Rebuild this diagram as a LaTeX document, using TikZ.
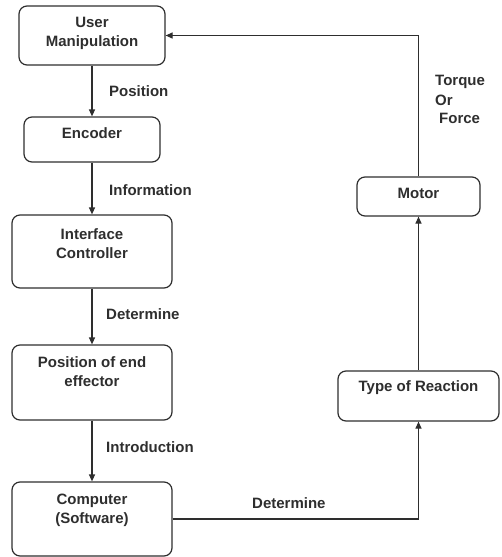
\documentclass[tikz,border=0pt]{standalone}
\usepackage{fontspec}
\setmainfont{Liberation Sans}
\usetikzlibrary{arrows.meta}
\definecolor{ink}{HTML}{2E2E2E}
\begin{document}
\begin{tikzpicture}[x=1pt,y=-1pt,
  box/.style={draw=ink,line width=1.2pt,rounded corners=8pt,inner sep=0pt},
  txt/.style={text=ink,font=\bfseries\fontsize{15}{19}\selectfont,align=center,inner sep=0pt},
  lbl/.style={text=ink,font=\bfseries\fontsize{15}{18}\selectfont,align=left,inner sep=0pt,anchor=west},
  flow/.style={draw=ink,line width=1.2pt,-{Triangle[length=7pt,width=6pt]}}]
\useasboundingbox (0,0) rectangle (501,557);
% boxes
\node[box,minimum width=146pt,minimum height=59pt] (um) at (92,35.5) {};
\node[box,minimum width=136pt,minimum height=45pt] (enc) at (92,139.5) {};
\node[box,minimum width=160pt,minimum height=73pt] (ic) at (92,251.5) {};
\node[box,minimum width=160pt,minimum height=75pt] (pe) at (92,382.5) {};
\node[box,minimum width=160pt,minimum height=74pt] (comp) at (92,519) {};
\node[box,minimum width=123pt,minimum height=39pt] (mot) at (418.5,196.5) {};
\node[box,minimum width=161pt,minimum height=50pt] (tr) at (418.5,396) {};
% box texts
\node[txt] (umt) at (92,33.5) {User\\Manipulation};
\node[txt] (enct) at (92,133) {Encoder};
\node[txt] (ict) at (92,244) {Interface\\Controller};
\node[txt] (pet) at (92,372) {Position of end\\effector};
\node[txt] (compt) at (92,510.5) {Computer\\(Software)};
\node[txt] (mott) at (418.5,193) {Motor};
\node[txt] (trt) at (418.5,388) {Type of Reaction};
% connectors
\draw[flow] (um.south) -- (enc.north);
\draw[flow] (enc.south) -- (ic.north);
\draw[flow] (ic.south) -- (pe.north);
\draw[flow] (pe.south) -- (comp.north);
\draw[flow] (comp.east) -| (tr.south);
\draw[flow] (tr.north) -- (mot.south);
\draw[flow] (mot.north) |- (um.east);
% connector labels
\node[lbl] (l1) at (109,91) {Position};
\node[lbl] (l2) at (109,190) {Information};
\node[lbl] (l3) at (106,314) {Determine};
\node[lbl] (l4) at (106,447) {Introduction};
\node[lbl] (l5) at (252,503) {Determine};
\node[lbl] (l6) at (435,82) {Torque};
\node[lbl] (l7) at (435,100) {Or};
\node[lbl] (l8) at (439,118) {Force};
\end{tikzpicture}
\end{document}
